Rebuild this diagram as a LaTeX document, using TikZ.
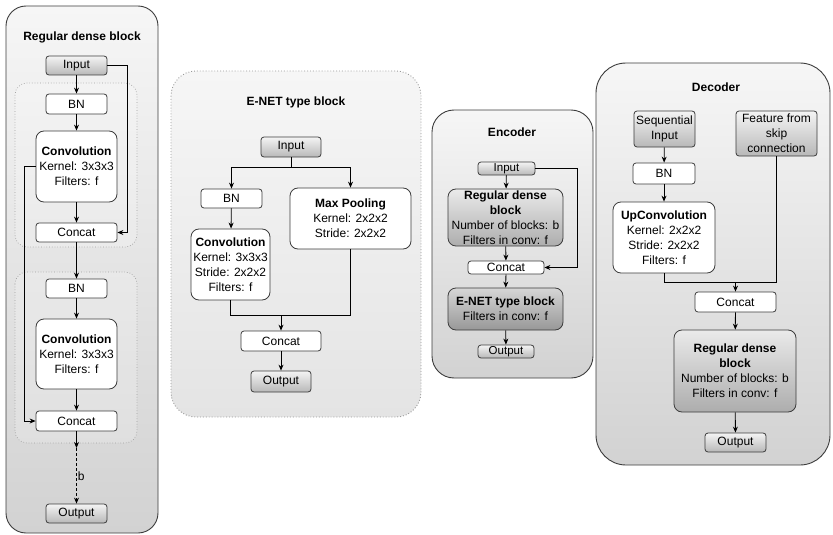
\documentclass[tikz,border=0pt]{standalone}
\usepackage{fontspec}
\setmainfont{Liberation Sans}
\usetikzlibrary{arrows.meta,calc}
\definecolor{edge}{HTML}{3C3C3C}
\definecolor{pantop}{HTML}{F6F6F6}
\definecolor{panbot}{HTML}{D2D2D2}
\definecolor{pan2bot}{HTML}{E4E4E4}
\definecolor{gtop}{HTML}{F4F4F4}
\definecolor{gbot}{HTML}{B8B8B8}
\definecolor{btop}{HTML}{EAEAEA}
\definecolor{bbot}{HTML}{ADADAD}
\definecolor{dtop}{HTML}{D6D6D6}
\definecolor{dbot}{HTML}{989898}
\tikzset{
  panel/.style={draw=edge, line width=0.9pt, rounded corners=22pt, top color=pantop, bottom color=panbot},
  grp/.style={draw=gray!75, line width=0.7pt, dotted, rounded corners=12pt, fill=white, fill opacity=0.2},
  ttl/.style={font=\fontsize{12}{14}\selectfont\bfseries},
  base/.style={draw=edge, line width=0.8pt, inner sep=0pt, align=center, font=\fontsize{12}{15}\selectfont},
  wbox/.style={base, fill=white, rounded corners=3pt},
  wbig/.style={base, fill=white, rounded corners=8pt},
  gbox/.style={base, top color=gtop, bottom color=gbot, rounded corners=3pt},
  gbig/.style={base, top color=btop, bottom color=bbot, rounded corners=8pt},
  dbig/.style={base, top color=dtop, bottom color=dbot, rounded corners=8pt},
  arr/.style={draw=black, line width=0.8pt, -{Stealth[length=6pt,width=5pt]}},
  ln/.style={draw=black, line width=0.8pt},
}
\newcommand{\bx}[7]{\node[#1, minimum width={(#5)-(#3)}, minimum height={(#6)-(#4)}] (#2) at ({((#3)+(#5))/2},{((#4)+(#6))/2}) {#7};}
\begin{document}
\begin{tikzpicture}[x=1pt,y=-1pt]
\useasboundingbox (0,0) rectangle (833,535);

% ---------- Panel 1: Regular dense block ----------
\path[panel, rounded corners=20pt] (6,6) rectangle (158,533);
\node[ttl] (t1) at (82,37) {Regular dense block};
\path[grp] (15,83) rectangle (137,247);
\path[grp] (15,272) rectangle (137,443);
\bx{gbox}{in1}{46}{56}{107}{75}{Input}
\bx{wbox}{bn1}{46}{94}{107}{114}{BN}
\bx{wbig}{cv1}{36}{131}{117}{202}{\textbf{Convolution}\\Kernel: 3x3x3\\Filters: f}
\bx{wbox}{cc1}{36}{223}{117}{242}{Concat}
\bx{wbox}{bn2}{46}{279}{107}{298}{BN}
\bx{wbig}{cv2}{36}{319}{117}{389}{\textbf{Convolution}\\Kernel: 3x3x3\\Filters: f}
\bx{wbox}{cc2}{36}{411}{117}{431}{Concat}
\bx{gbox}{out1}{46}{504}{107}{523}{Output}
\coordinate (d1) at (76.5,448);
\draw[arr] (in1) -- (bn1);
\draw[arr] (bn1) -- (cv1);
\draw[arr] (cv1) -- (cc1);
\draw[arr] (cc1) -- (bn2);
\draw[arr] (bn2) -- (cv2);
\draw[arr] (cv2) -- (cc2);
\draw[arr] (cc2) -- (d1);
\draw[arr, dash pattern=on 3pt off 2pt] (d1) -- node[right, inner sep=1pt, font=\fontsize{12}{14}\selectfont] {b} (out1);
\draw[arr] (in1.east) -- ++(20,0) |- (cc1.east);
\draw[arr] (cv1.west) -- ++(-11,0) |- (cc2.west);

% ---------- Panel 2: E-NET type block ----------
\path[panel, draw=gray!80, dotted, rounded corners=25pt, bottom color=pan2bot] (171,71) rectangle (421,417);
\node[ttl] (t2) at (296,102) {E-NET type block};
\bx{gbox}{in2}{261}{137}{321}{157}{Input}
\bx{wbox}{bn3}{201}{189}{262}{208}{BN}
\bx{wbig}{cv3}{191}{229}{270}{300}{\textbf{Convolution}\\Kernel: 3x3x3\\Stride: 2x2x2\\Filters: f}
\bx{wbig}{mp}{290}{188}{411}{249}{\textbf{Max Pooling}\\Kernel: 2x2x2\\Stride: 2x2x2}
\bx{wbox}{cc3}{241}{331}{321}{351}{Concat}
\bx{gbox}{out2}{251}{371}{311}{392}{Output}
\draw[ln] (in2.south) -- ++(0,10) coordinate (s2);
\draw[arr] (s2) -| (bn3.north);
\draw[arr] (s2) -| (mp.north);
\draw[arr] (bn3) -- (cv3);
\draw[ln] (cv3.south) -- ++(0,15) coordinate (m2) -| (mp.south);
\draw[arr] (cc3.north |- m2) -- (cc3.north);
\draw[arr] (cc3) -- (out2);

% ---------- Panel 3: Encoder ----------
\path[panel] (432,110) rectangle (593,378);
\node[ttl] (t3) at (512,132) {Encoder};
\bx{gbox}{in3}{478}{162}{535}{175}{\fontsize{11.5}{13}\selectfont Input}
\bx{gbig}{rd1}{448}{189}{563}{246}{\fontsize{12}{11.5}\selectfont\textbf{Regular dense}\\\textbf{block}\\Number of blocks: b\\Filters in conv: f}
\bx{wbox}{cc4}{468}{261}{544}{274}{Concat}
\bx{dbig}{en}{448}{288}{563}{330}{\fontsize{12}{12.5}\selectfont\textbf{E-NET type block}\\Filters in conv: f}
\bx{gbox}{out3}{478}{345}{534}{358}{\fontsize{11.5}{13}\selectfont Output}
\draw[arr] (in3) -- (rd1);
\draw[arr] (rd1) -- (cc4);
\draw[arr] (cc4) -- (en);
\draw[arr] (en) -- (out3);
\draw[arr] (in3.east) -- ++(42,0) |- (cc4.east);

% ---------- Panel 4: Decoder ----------
\path[panel, rounded corners=30pt] (596,63) rectangle (830,465);
\node[ttl] (t4) at (716,87) {Decoder};
\bx{gbox}{si}{634}{111}{695}{147}{Sequential\\Input}
\bx{gbox}{fs}{736}{111}{817}{156}{\fontsize{12}{14}\selectfont Feature from\\skip\\connection}
\bx{wbox}{bn4}{633}{163}{695}{184}{BN}
\bx{wbig}{uc}{613}{202}{715}{273}{\fontsize{12}{14.5}\selectfont\textbf{UpConvolution}\\Kernel: 2x2x2\\Stride: 2x2x2\\Filters: f}
\bx{wbox}{cc5}{695}{292}{776}{312}{Concat}
\bx{gbig}{rd2}{674}{330}{796}{412}{\fontsize{12}{14}\selectfont\textbf{Regular dense}\\\textbf{block}\\Number of blocks: b\\Filters in conv: f}
\bx{gbox}{out4}{705}{433}{766}{452}{Output}
\draw[arr] (si) -- (bn4);
\draw[arr] (bn4) -- (uc);
\draw[ln] (uc.south) -- ++(0,9) coordinate (m4) -| (fs.south);
\draw[arr] (cc5.north |- m4) -- (cc5.north);
\draw[arr] (cc5) -- (rd2);
\draw[arr] (rd2) -- (out4);
\end{tikzpicture}
\end{document}
